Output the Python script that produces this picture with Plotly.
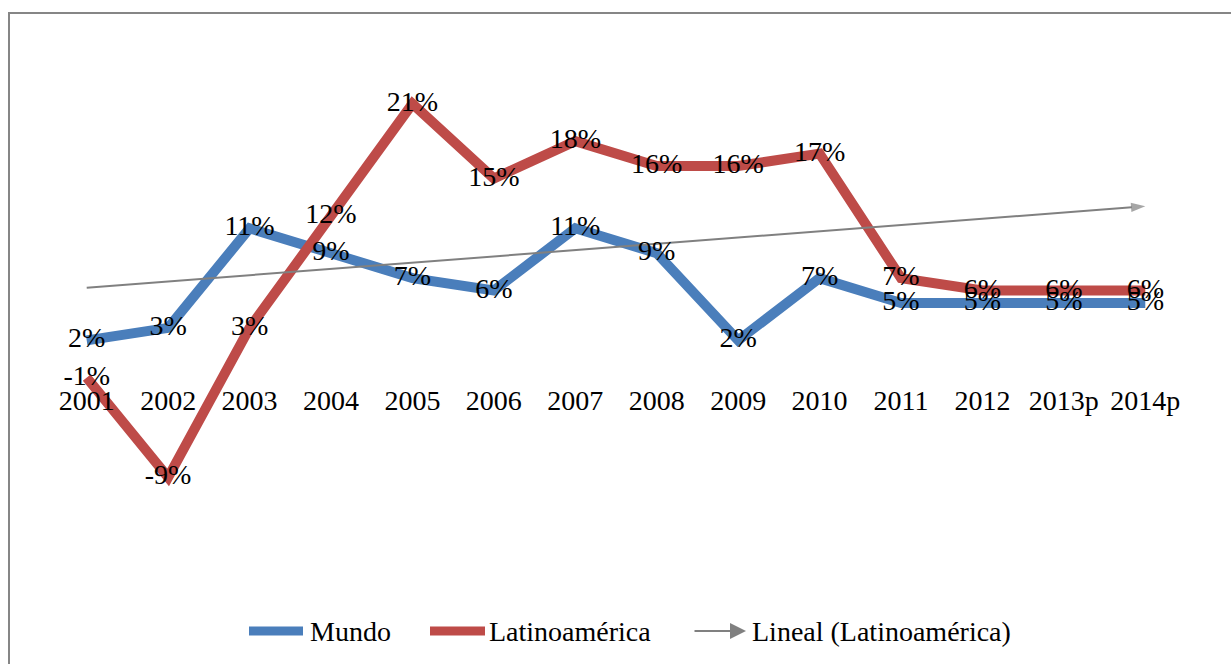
import numpy as np
import plotly.graph_objects as go

years = ["2001", "2002", "2003", "2004", "2005", "2006", "2007", "2008", "2009",
         "2010", "2011", "2012", "2013p", "2014p"]
mundo = [2, 3, 11, 9, 7, 6, 11, 9, 2, 7, 5, 5, 5, 5]
latam = [-1, -9, 3, 12, 21, 15, 18, 16, 16, 17, 7, 6, 6, 6]

BLUE = "#4a7ebb"
RED = "#be4b48"
GRAY = "#808080"
FONT = "Liberation Serif"
FS = 28

W, H = 1231, 664
L, R, T, B = 46, 45, 54, 112
PW, PH = W - L - R, H - T - B


def px_x(px):
    return (px - L) / PW


def px_y(py):
    return 1 - (py - T) / PH


# linear trend of Latinoamérica
xi = np.arange(len(latam))
slope, intercept = np.polyfit(xi, latam, 1)
trend = slope * xi + intercept

fig = go.Figure()

fig.add_trace(go.Scatter(x=years, y=mundo, mode="lines", name="Mundo",
                         line=dict(color=BLUE, width=10), showlegend=False))
fig.add_trace(go.Scatter(x=years, y=latam, mode="lines", name="Latinoamérica",
                         line=dict(color=RED, width=10), showlegend=False))
sizes = [0] * (len(years) - 1) + [15]
fig.add_trace(go.Scatter(x=years, y=trend, mode="lines+markers",
                         name="Lineal (Latinoamérica)",
                         line=dict(color=GRAY, width=2),
                         marker=dict(symbol="arrow", size=sizes, angleref="previous",
                                     color=GRAY, line=dict(width=0)),
                         showlegend=False))

fig.add_trace(go.Scatter(x=years, y=mundo, mode="text",
                         text=[f"{v}%" for v in mundo], textposition="middle center",
                         textfont=dict(family=FONT, size=FS, color="black"),
                         showlegend=False))
fig.add_trace(go.Scatter(x=years, y=latam, mode="text",
                         text=[f"{v}%" for v in latam], textposition="middle center",
                         textfont=dict(family=FONT, size=FS, color="black"),
                         showlegend=False))

shapes = [
    dict(type="rect", xref="paper", yref="paper",
         x0=px_x(9), x1=px_x(1245), y0=px_y(680), y1=px_y(13),
         line=dict(color="#868686", width=2), fillcolor="rgba(0,0,0,0)", layer="below"),
]
ly = px_y(631)
# legend samples
shapes.append(dict(type="line", xref="paper", yref="paper", x0=px_x(249), x1=px_x(303),
                   y0=ly, y1=ly, line=dict(color=BLUE, width=9)))
shapes.append(dict(type="line", xref="paper", yref="paper", x0=px_x(430), x1=px_x(485),
                   y0=ly, y1=ly, line=dict(color=RED, width=9)))

annotations = [
    dict(xref="paper", yref="paper", x=px_x(308), y=ly, text="Mundo", showarrow=False,
         xanchor="left", yanchor="middle", font=dict(family=FONT, size=FS, color="black")),
    dict(xref="paper", yref="paper", x=px_x(487), y=ly, text="Latinoamérica", showarrow=False,
         xanchor="left", yanchor="middle", font=dict(family=FONT, size=FS, color="black")),
    dict(xref="paper", yref="paper", x=px_x(750), y=ly, text="Lineal (Latinoamérica)",
         showarrow=False, xanchor="left", yanchor="middle",
         font=dict(family=FONT, size=FS, color="black")),
    dict(xref="paper", yref="paper", x=px_x(746), y=ly, ax=-53, ay=0, text="",
         showarrow=True, arrowhead=2, arrowsize=1.6, arrowwidth=2, arrowcolor=GRAY),
]

y0, y1 = -15, 25
fig.update_layout(
    width=W, height=H,
    margin=dict(l=L, r=R, t=T, b=B),
    paper_bgcolor="white", plot_bgcolor="white",
    showlegend=False,
    shapes=shapes, annotations=annotations,
    xaxis=dict(type="category", range=[-0.5, len(years) - 0.5], showgrid=False,
               zeroline=False, showline=False, anchor="free",
               position=(0 - y0) / (y1 - y0), ticks="", ticklabelstandoff=16,
               tickfont=dict(family=FONT, size=FS, color="black")),
    yaxis=dict(range=[y0, y1], showgrid=False, zeroline=False, showline=False,
               showticklabels=False, ticks=""),
)

fig.write_html("out.html")
